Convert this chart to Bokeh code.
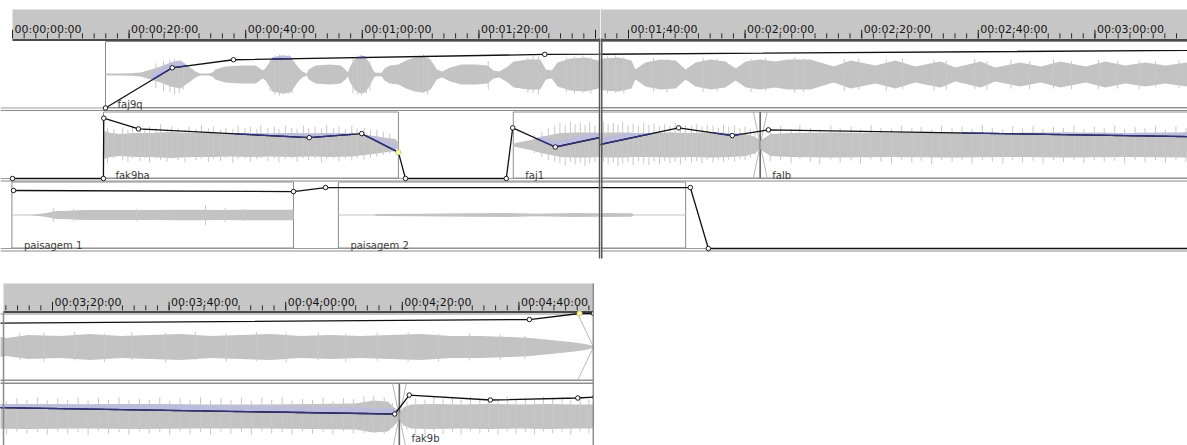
import numpy as np
from bokeh.plotting import figure
from bokeh.layouts import column, row
from bokeh.models import Range1d
from bokeh.core.properties import value
from bokeh.embed import file_html
from bokeh.resources import INLINE

# ---------------- data ----------------
# time ruler (seconds / labels)
major_ticks_s = [0, 20, 40, 60, 80, 100, 120, 140, 160, 180, 200, 220, 240, 260, 280, 300]
major_labels = ["00:00:00:00", "00:00:20:00", "00:00:40:00", "00:01:00:00", "00:01:20:00",
                "00:01:40:00", "00:02:00:00", "00:02:20:00", "00:02:40:00", "00:03:00:00",
                "00:03:20:00", "00:03:40:00", "00:04:00:00", "00:04:20:00", "00:04:40:00",
                "00:05:00:00"]
minor_step_s = 2

# clips on the three tracks
clip_names = ["faj9q", "fak9ba", "faj1", "falb", "fak9b", "paisagem 1", "paisagem 2"]
clip_track = [1, 2, 2, 2, 2, 3, 3]
clip_start = [15.95, 15.6, 85.9, 122.6, 259.5, -0.1, 55.9]
clip_end = [292.8, 66.2, 122.6, 259.5, 310.0, 48.2, 109.8]

# waveform body: (time s, amplitude % of half track)
wave_faj9q = [(15.95, 3), (18.5, 3), (20.2, 4), (22.0, 6), (23.7, 15), (25.4, 24), (27.1, 36),
              (28.8, 42), (30.5, 21), (31.4, 9), (32.2, 3), (33.6, 3), (34.3, 6), (34.8, 15),
              (36.5, 24), (39.1, 27), (41.7, 27), (42.9, 12), (43.4, 18), (44.6, 51), (46.3, 57),
              (47.7, 54), (48.9, 24), (49.7, 9), (50.5, 3), (50.8, 15), (52.0, 27), (54.5, 30),
              (56.3, 27), (57.1, 15), (57.5, 6), (58.0, 27), (58.8, 48), (59.7, 57), (60.5, 54),
              (61.3, 33), (62.0, 9), (62.3, 5), (63.3, 5), (63.8, 18), (64.7, 27), (66.2, 30),
              (67.5, 42), (69.0, 51), (70.5, 54), (71.7, 45), (72.8, 15), (73.7, 9), (75.1, 21),
              (77.0, 30), (79.5, 30), (81.5, 27), (82.5, 12), (83.5, 9), (84.7, 21), (86.0, 39),
              (88.5, 45), (90.5, 45), (91.5, 15), (92.5, 12), (93.5, 36), (95.7, 48), (98.3, 51),
              (100.5, 42), (101.2, 15), (102.9, 36), (105.5, 45), (108.1, 42), (109.8, 15),
              (111.5, 36), (114.1, 45), (116.6, 39), (118.4, 18), (120.1, 39), (122.6, 45),
              (125.2, 39), (127.3, 45), (131.2, 45), (135.2, 24), (138.1, 42), (142.4, 27),
              (145.8, 42), (149.2, 24), (153.5, 39), (156.1, 21), (160.4, 39), (162.9, 21),
              (167.2, 36), (170.7, 24), (174.1, 39), (178.4, 24), (181.8, 39), (185.2, 27),
              (188.7, 36), (192.1, 27), (195.9, 36), (201.4, 33), (206.5, 39), (211.7, 33),
              (216.8, 36), (222.0, 39), (227.1, 33), (232.2, 36), (237.4, 39), (242.5, 33),
              (247.7, 36), (252.8, 33), (258.0, 36), (263.1, 39), (268.3, 33), (273.4, 33),
              (278.6, 30), (282.0, 27), (285.4, 21), (288.9, 15), (291.4, 9), (292.8, 3)]
wave_fak9ba = [(15.6, 6), (15.8, 42), (16.8, 36), (18.5, 33), (21.1, 36), (23.7, 36), (27.1, 39),
               (30.5, 36), (34.0, 36), (37.4, 34), (40.8, 36), (44.3, 34), (47.7, 36), (51.1, 34),
               (54.5, 36), (58.0, 34), (60.5, 30), (63.1, 24), (65.7, 18), (66.2, 6)]
wave_faj1 = [(85.9, 3), (86.3, 6), (87.1, 9), (88.9, 15), (90.6, 24), (92.3, 30), (94.0, 36),
             (96.6, 37), (99.1, 37), (100.9, 36), (103.8, 36), (107.2, 37), (110.6, 36),
             (114.1, 37), (117.5, 36), (120.1, 33), (121.8, 24), (122.6, 12)]
wave_falb = [(122.6, 12), (123.0, 18), (124.4, 33), (127.8, 36), (135.0, 37), (145.0, 36),
             (155.0, 37), (165.0, 36), (175.0, 37), (185.0, 36), (195.9, 37), (205.0, 36),
             (215.0, 37), (225.0, 36), (235.0, 36), (245.0, 37), (252.0, 39), (255.0, 48),
             (257.5, 45), (258.8, 24), (259.5, 9)]
wave_fak9b = [(259.5, 9), (260.2, 27), (261.5, 36), (265.0, 37), (270.0, 36), (275.0, 37),
              (280.0, 36), (285.0, 37), (290.0, 36), (295.0, 36), (310.0, 36)]
wave_paisagem1 = [(-0.1, 0), (3.0, 0), (4.5, 3), (5.8, 6), (7.5, 12), (9.0, 12), (12.0, 15),
                  (16.0, 15), (20.0, 15), (24.0, 15), (28.0, 16), (32.0, 16), (36.0, 15),
                  (40.0, 16), (44.0, 16), (47.0, 16), (48.2, 16)]
wave_paisagem2 = [(55.9, 0), (62.0, 0), (62.5, 3), (70.0, 4), (78.0, 5), (85.0, 6), (90.0, 4),
                  (96.0, 6), (100.5, 5), (101.0, 0), (109.8, 0)]

# single peaks sticking out of the body: (time s, upward %, downward %)
peaks_faj9q = [(24.6, 33, 40), (25.9, 40, 50), (27.0, 44, 52), (27.8, 46, 60), (28.6, 40, 57),
               (29.3, 30, 45), (44.2, 45, 50), (45.0, 57, 60), (45.8, 60, 63), (46.5, 55, 60),
               (47.3, 58, 57), (48.0, 48, 55), (58.4, 50, 55), (59.2, 57, 60), (59.9, 55, 63),
               (60.7, 52, 57), (61.3, 40, 48), (69.6, 48, 50), (70.5, 60, 55), (71.2, 57, 60),
               (81.6, 40, 45), (88.4, 50, 54), (89.3, 57, 55), (90.2, 55, 60), (95.0, 50, 52),
               (96.4, 54, 57), (97.8, 57, 55), (99.2, 52, 57), (104.3, 50, 50), (106.6, 48, 54),
               (112.8, 50, 52), (115.2, 48, 50), (121.0, 47, 52), (123.5, 50, 48),
               (128.5, 52, 54), (130.0, 48, 52), (137.0, 46, 50), (139.5, 48, 45),
               (144.2, 45, 50), (147.0, 48, 44), (152.4, 44, 48), (154.5, 42, 46),
               (159.4, 46, 44), (161.5, 40, 45), (165.6, 44, 42), (168.8, 40, 44),
               (172.9, 45, 42), (176.0, 40, 44), (180.6, 44, 43), (183.9, 40, 42),
               (187.6, 42, 44), (190.4, 40, 38), (194.4, 42, 40), (198.5, 42, 44),
               (203.8, 45, 40), (208.9, 40, 45), (213.6, 44, 40), (219.4, 42, 46),
               (224.5, 45, 40), (229.8, 40, 44), (235.0, 44, 42), (240.1, 42, 45),
               (245.6, 44, 40), (250.3, 40, 44), (255.7, 43, 41), (261.0, 45, 43),
               (266.2, 40, 44), (271.5, 42, 40), (276.8, 38, 40), (281.0, 34, 36)]
peaks_fak9ba = [(16.3, 50, 55), (17.4, 48, 40), (18.9, 52, 45), (19.8, 45, 50), (20.6, 58, 40),
                (21.9, 50, 48), (22.7, 47, 40), (23.5, 55, 52), (24.6, 50, 40), (25.4, 62, 45),
                (26.5, 48, 50), (27.3, 56, 40), (28.4, 50, 45), (29.6, 45, 52), (30.3, 54, 40),
                (31.5, 48, 46), (32.4, 60, 40), (33.6, 50, 50), (34.5, 55, 42), (35.7, 46, 48),
                (36.6, 52, 40), (37.8, 48, 54), (38.7, 57, 42), (39.9, 50, 40), (40.8, 54, 50),
                (41.9, 47, 42), (42.6, 60, 40), (43.8, 50, 48), (44.9, 55, 40), (45.7, 48, 52),
                (46.8, 58, 42), (47.9, 52, 40), (48.8, 49, 50), (49.9, 57, 40), (50.8, 50, 46),
                (51.9, 54, 40), (53.0, 48, 52), (53.9, 60, 42), (55.1, 51, 40), (56.0, 55, 48),
                (57.1, 48, 40), (58.2, 57, 46), (59.1, 50, 40), (60.3, 52, 44), (61.4, 45, 38),
                (62.5, 46, 36), (63.6, 40, 30), (64.7, 34, 26)]
peaks_faj1 = [(89.5, 30, 25), (90.8, 40, 35), (91.9, 50, 45), (93.0, 58, 50), (93.9, 66, 55),
              (94.8, 60, 62), (95.7, 69, 50), (96.5, 62, 58), (97.4, 66, 52), (98.2, 60, 63),
              (99.0, 68, 55), (99.9, 58, 50), (100.8, 63, 60), (101.7, 57, 48), (102.6, 66, 55),
              (103.5, 60, 60), (104.4, 64, 50), (105.3, 56, 57), (106.2, 62, 48), (107.1, 58, 55),
              (108.0, 66, 50), (108.9, 55, 58), (109.8, 60, 46), (110.8, 57, 52), (111.7, 63, 48),
              (112.6, 54, 55), (113.5, 60, 45), (114.5, 57, 52), (115.4, 52, 46), (116.3, 60, 50),
              (117.2, 54, 44), (118.2, 58, 50), (119.1, 50, 42), (120.0, 55, 46), (120.9, 48, 38),
              (121.7, 36, 30)]
peaks_falb = [(124.3, 50, 48), (126.1, 57, 45), (127.9, 48, 55), (129.4, 60, 42), (131.2, 52, 50),
              (132.8, 46, 58), (134.7, 58, 44), (136.3, 50, 52), (138.2, 55, 46), (139.8, 47, 56),
              (141.6, 60, 43), (143.3, 52, 50), (145.1, 48, 55), (146.8, 57, 44), (148.6, 50, 52),
              (150.2, 54, 47), (152.0, 46, 57), (153.7, 58, 45), (155.5, 50, 50), (157.2, 55, 46),
              (158.9, 48, 55), (160.7, 60, 44), (162.4, 51, 50), (164.2, 47, 56), (165.9, 56, 45),
              (167.6, 50, 52), (169.4, 58, 47), (171.1, 48, 55), (172.9, 54, 44), (174.6, 50, 51),
              (176.4, 57, 46), (178.1, 47, 54), (179.9, 55, 45), (181.6, 50, 50), (183.4, 58, 47),
              (185.1, 48, 55), (186.9, 53, 44), (188.6, 50, 52), (190.4, 57, 46), (192.1, 46, 54),
              (193.9, 55, 45), (195.6, 50, 50), (197.4, 58, 47), (199.1, 48, 54), (200.9, 54, 45),
              (202.6, 50, 52), (204.4, 57, 46), (206.1, 47, 55), (207.9, 56, 44), (209.6, 50, 51),
              (211.4, 58, 47), (213.1, 48, 54), (214.9, 53, 45), (216.6, 50, 52), (218.4, 57, 46),
              (220.1, 46, 55), (221.9, 55, 44), (223.6, 50, 51), (225.4, 58, 47), (227.1, 48, 54),
              (228.9, 54, 45), (230.6, 50, 52), (232.4, 57, 46), (234.1, 47, 55), (235.9, 56, 44),
              (237.6, 50, 51), (239.4, 58, 47), (241.1, 48, 54), (242.9, 53, 45), (244.6, 50, 52),
              (246.4, 57, 46), (248.1, 46, 55), (249.9, 55, 44), (251.6, 52, 51), (253.4, 60, 50),
              (255.1, 62, 47), (256.9, 58, 52), (258.3, 40, 35)]
peaks_fak9b = [(260.8, 45, 40), (262.3, 55, 50), (263.9, 50, 56), (265.4, 60, 45), (267.0, 52, 52),
               (268.6, 57, 46), (270.1, 49, 55), (271.7, 60, 44), (273.3, 52, 50), (274.8, 56, 47),
               (276.4, 48, 55), (278.0, 60, 45), (279.5, 51, 52), (281.1, 57, 46), (282.7, 49, 54),
               (284.2, 60, 45), (285.8, 52, 50), (287.4, 56, 47), (288.9, 48, 55), (290.5, 60, 45),
               (292.0, 52, 50)]
peaks_paisagem1 = [(7.0, 21, 21), (10.5, 18, 18), (21.3, 18, 18), (33.1, 30, 30), (36.5, 21, 21),
                   (39.8, 18, 18)]

# volume envelopes per track: time s, level 0..1
env1_t = [15.95, 27.4, 37.9, 91.3, 281.8, 290.4, 292.8]
env1_v = [0.0, 0.60, 0.72, 0.80, 0.91, 1.0, 1.0]
env2_t = [0.0, 15.6, 15.65, 21.6, 50.9, 59.9, 66.2, 67.4, 84.7, 85.8, 93.1, 108.6, 117.8, 124.0,
          258.7, 261.2, 275.1, 290.1, 293.0]
env2_v = [0.0, 0.0, 0.90, 0.74, 0.61, 0.67, 0.39, 0.0, 0.0, 0.756, 0.47, 0.756, 0.64, 0.726,
          0.537, 0.82, 0.746, 0.776, 0.79]
env3_t = [0.17, 48.2, 53.7, 110.6, 113.7, 300.0]
env3_v = [0.866, 0.85, 0.91, 0.91, 0.0, 0.0]
selected_nodes = [(2, 66.2, 0.39), (1, 290.4, 1.0)]

crossfade_t = [122.6, 259.5]     # on track 2
fade_out = (1, 290.05, 292.8)    # end of faj9q

waves = {"faj9q": wave_faj9q, "fak9ba": wave_fak9ba, "faj1": wave_faj1, "falb": wave_falb,
         "fak9b": wave_fak9b, "paisagem 1": wave_paisagem1, "paisagem 2": wave_paisagem2}
peaks = {"faj9q": peaks_faj9q, "fak9ba": peaks_fak9ba, "faj1": peaks_faj1, "falb": peaks_falb,
         "fak9b": peaks_fak9b, "paisagem 1": peaks_paisagem1}
envs = {1: (env1_t, env1_v), 2: (env2_t, env2_v), 3: (env3_t, env3_v)}

# ---------------- style ----------------
WAVE = "#c3c3c3"
PEAK = "#c8c8c8"
LAV = "#bcbcdc"
NAVY = "#30307c"
RULER = "#c6c6c6"
FONT = value("DejaVu Sans")
LABEL_W_PX = 68


def make_fig(w, h, xr, yr):
    p = figure(width=w, height=h, x_range=Range1d(*xr), y_range=Range1d(*yr),
               output_backend="svg", toolbar_location=None, min_border=0,
               x_axis_location=None, y_axis_location=None)
    p.grid.visible = False
    p.outline_line_color = None
    p.background_fill_color = "white"
    p.border_fill_color = "white"
    return p


def draw_panel(p, lanes, ruler, gray_from, cursor=None):
    x0, x1 = p.x_range.start, p.x_range.end
    ybot = p.y_range.start
    pxs = p.width / (x1 - x0)
    r_top, r_base, r_tick, r_line = ruler

    # ruler
    g0 = max(gray_from, x0)
    p.quad(left=[g0], right=[x1], top=[r_top], bottom=[r_line],
           fill_color=RULER, line_color=None)
    mn = np.arange(-20, 320, minor_step_s)
    mn = mn[(mn >= g0) & (mn <= x1)]
    p.segment(x0=mn, y0=np.full(len(mn), r_tick - 5), x1=mn, y1=np.full(len(mn), r_tick),
              line_color="#2a2a2a", line_width=1)
    mj = np.array(major_ticks_s, dtype=float)
    lb = np.array(major_labels)
    sel = (mj >= g0) & (mj <= x1)
    p.segment(x0=mj[sel], y0=np.full(sel.sum(), r_tick - 8.5), x1=mj[sel],
              y1=np.full(sel.sum(), r_tick), line_color="#1e1e1e", line_width=1)
    fit = sel & (mj + (2 + LABEL_W_PX) / pxs <= x1)
    p.text(x=mj[fit] + 2 / pxs, y=np.full(fit.sum(), r_base), text=list(lb[fit]),
           text_font=FONT, text_font_size="11px", text_align="left",
           text_baseline="alphabetic", text_color="#151515")
    p.segment(x0=[g0], y0=[r_line + 0.8], x1=[x1], y1=[r_line + 0.8],
              line_color="#4a4a4a", line_width=2)

    # lane separators
    for tr, (top, bot) in lanes.items():
        p.segment(x0=[x0, x0], y0=[bot, bot + 2.5], x1=[x1, x1], y1=[bot, bot + 2.5],
                  line_color=["#9c9c9c", "#8a8a8a"], line_width=1)

    navy_layers = []
    labels = []
    for name, tr, s, e in zip(clip_names, clip_track, clip_start, clip_end):
        if tr not in lanes or e < x0 or s > x1:
            continue
        top, bot = lanes[tr]
        mid = (top + bot) / 2
        half = (bot - top) / 2
        p.quad(left=[s], right=[e], top=[top + 0.5], bottom=[bot - 0.5],
               fill_color="white", line_color="#8c8c8c", line_width=1)
        if tr == 2:
            for xf in crossfade_t:
                if s <= xf < e:
                    p.segment(x0=[xf], y0=[top + 0.5], x1=[xf], y1=[bot - 0.5],
                              line_color="#6a6a6a", line_width=1.5)
        p.line([s, e], [mid, mid], line_color=WAVE, line_width=1)
        wt = np.array([a for a, b in waves[name]])
        wa = np.array([b for a, b in waves[name]]) / 100 * half
        p.varea(x=wt, y1=mid - wa, y2=mid + wa, fill_color=WAVE)
        if name in peaks:
            kt = np.array([a for a, b, c in peaks[name]])
            ku = np.array([b for a, b, c in peaks[name]]) / 100 * half
            kd = np.array([c for a, b, c in peaks[name]]) / 100 * half
            p.segment(x0=kt, y0=mid - ku, x1=kt, y1=mid + kd, line_color=PEAK, line_width=1)
        # part of the waveform just above the volume line is tinted
        et, ev = envs[tr]
        erow = bot - np.array(ev) * (bot - top)
        a0, a1 = max(s, wt[0]), min(e, wt[-1])
        ts = np.linspace(a0, a1, int((a1 - a0) * 12) + 2)
        amp = np.interp(ts, wt, wa)
        wtop, wbot = mid - amp, mid + amp
        env_d = np.interp(ts, et, erow)
        inside = (env_d > wtop + 0.3) & (env_d < wbot)
        y2 = np.where(inside, env_d, wtop)
        y1 = np.maximum(wtop, y2 - 6)
        p.varea(x=ts, y1=y1, y2=y2, fill_color=LAV)
        navy_layers.append((ts, np.where(inside, env_d, np.nan)))
        lx = s + 12 / pxs
        if lx >= x0 and lx + 40 / pxs <= x1:
            labels.append((lx, min(bot - 3.5, ybot - 7), name))

    # crossfade / fade marks
    if 2 in lanes:
        top, bot = lanes[2]
        for xf in crossfade_t:
            p.segment(x0=[xf - 1.2, xf + 1.2], y0=[top, top], x1=[xf + 1.2, xf - 1.2], y1=[bot, bot],
                      line_color="#a4a4a4", line_width=0.8)
    ftr, fs, fe = fade_out
    if ftr in lanes:
        top, bot = lanes[ftr]
        mid = (top + bot) / 2
        p.segment(x0=[fs, fs], y0=[top, bot], x1=[fe, fe], y1=[mid, mid],
                  line_color="#a4a4a4", line_width=0.8)

    if labels:
        p.text(x=[l[0] for l in labels], y=[l[1] for l in labels], text=[l[2] for l in labels],
               text_font=FONT, text_font_size="10px", text_align="left",
               text_baseline="alphabetic", text_color="#3c3c3c")

    # volume envelopes
    for tr, (top, bot) in lanes.items():
        et, ev = envs[tr]
        erow = bot - np.array(ev) * (bot - top)
        p.line(et, erow, line_color="#111111", line_width=1.3)
    for ts, ny in navy_layers:
        p.line(ts, ny, line_color=NAVY, line_width=1.4)
    for tr, (top, bot) in lanes.items():
        et, ev = envs[tr]
        erow = bot - np.array(ev) * (bot - top)
        p.scatter(et, erow, marker="circle", size=4.5, fill_color="white",
                  line_color="#1a1a1a", line_width=1)
    for tr, t, v in selected_nodes:
        if tr in lanes:
            top, bot = lanes[tr]
            p.scatter([t], [bot - v * (bot - top)], marker="circle", size=5,
                      fill_color="#ffff96", line_color="#d8d890", line_width=1)
    if cursor is not None:
        p.segment(x0=[cursor], y0=[38], x1=[cursor], y1=[258], line_color="#585858", line_width=2)


PX_PER_S = 5.83
TOP_LANES = {1: (40.5, 107.5), 2: (111.0, 178.0), 3: (181.0, 248.0)}
BOT_LANES = {1: (313.0, 380.0), 2: (382.5, 449.5)}
TOP_RULER = (9.0, 29.3, 37.8, 38.6)
BOT_RULER = (283.0, 301.7, 309.8, 310.8)

# left half of the upper view, right half of the upper view, lower view
xl0 = (0 - 12) / PX_PER_S
pL = make_fig(600, 260, (xl0, xl0 + 600 / PX_PER_S), (260, 0))
xr0 = 100 + (600 - 628) / PX_PER_S
pR = make_fig(587, 260, (xr0, xr0 + 587 / PX_PER_S), (260, 0))
xb0 = 200 + (0 - 52) / PX_PER_S
pB = make_fig(594, 185, (xb0, xb0 + 594 / PX_PER_S), (445, 260))

draw_panel(pL, TOP_LANES, TOP_RULER, 0.0, cursor=xl0 + 600 / PX_PER_S - 0.12)
draw_panel(pR, TOP_LANES, TOP_RULER, -100.0, cursor=xr0 + 0.17)
draw_panel(pB, BOT_LANES, BOT_RULER, xb0 + 3 / PX_PER_S)
pB.segment(x0=[clip_end[0] + 0.05, xb0 + 3 / PX_PER_S], y0=[283, 311],
           x1=[clip_end[0] + 0.05, xb0 + 3 / PX_PER_S], y1=[445, 445],
           line_color="#8a8a8a", line_width=[2.5, 1.5])

layout = column(row(pL, pR), pB)
open("out.html", "w").write(file_html(layout, INLINE))
